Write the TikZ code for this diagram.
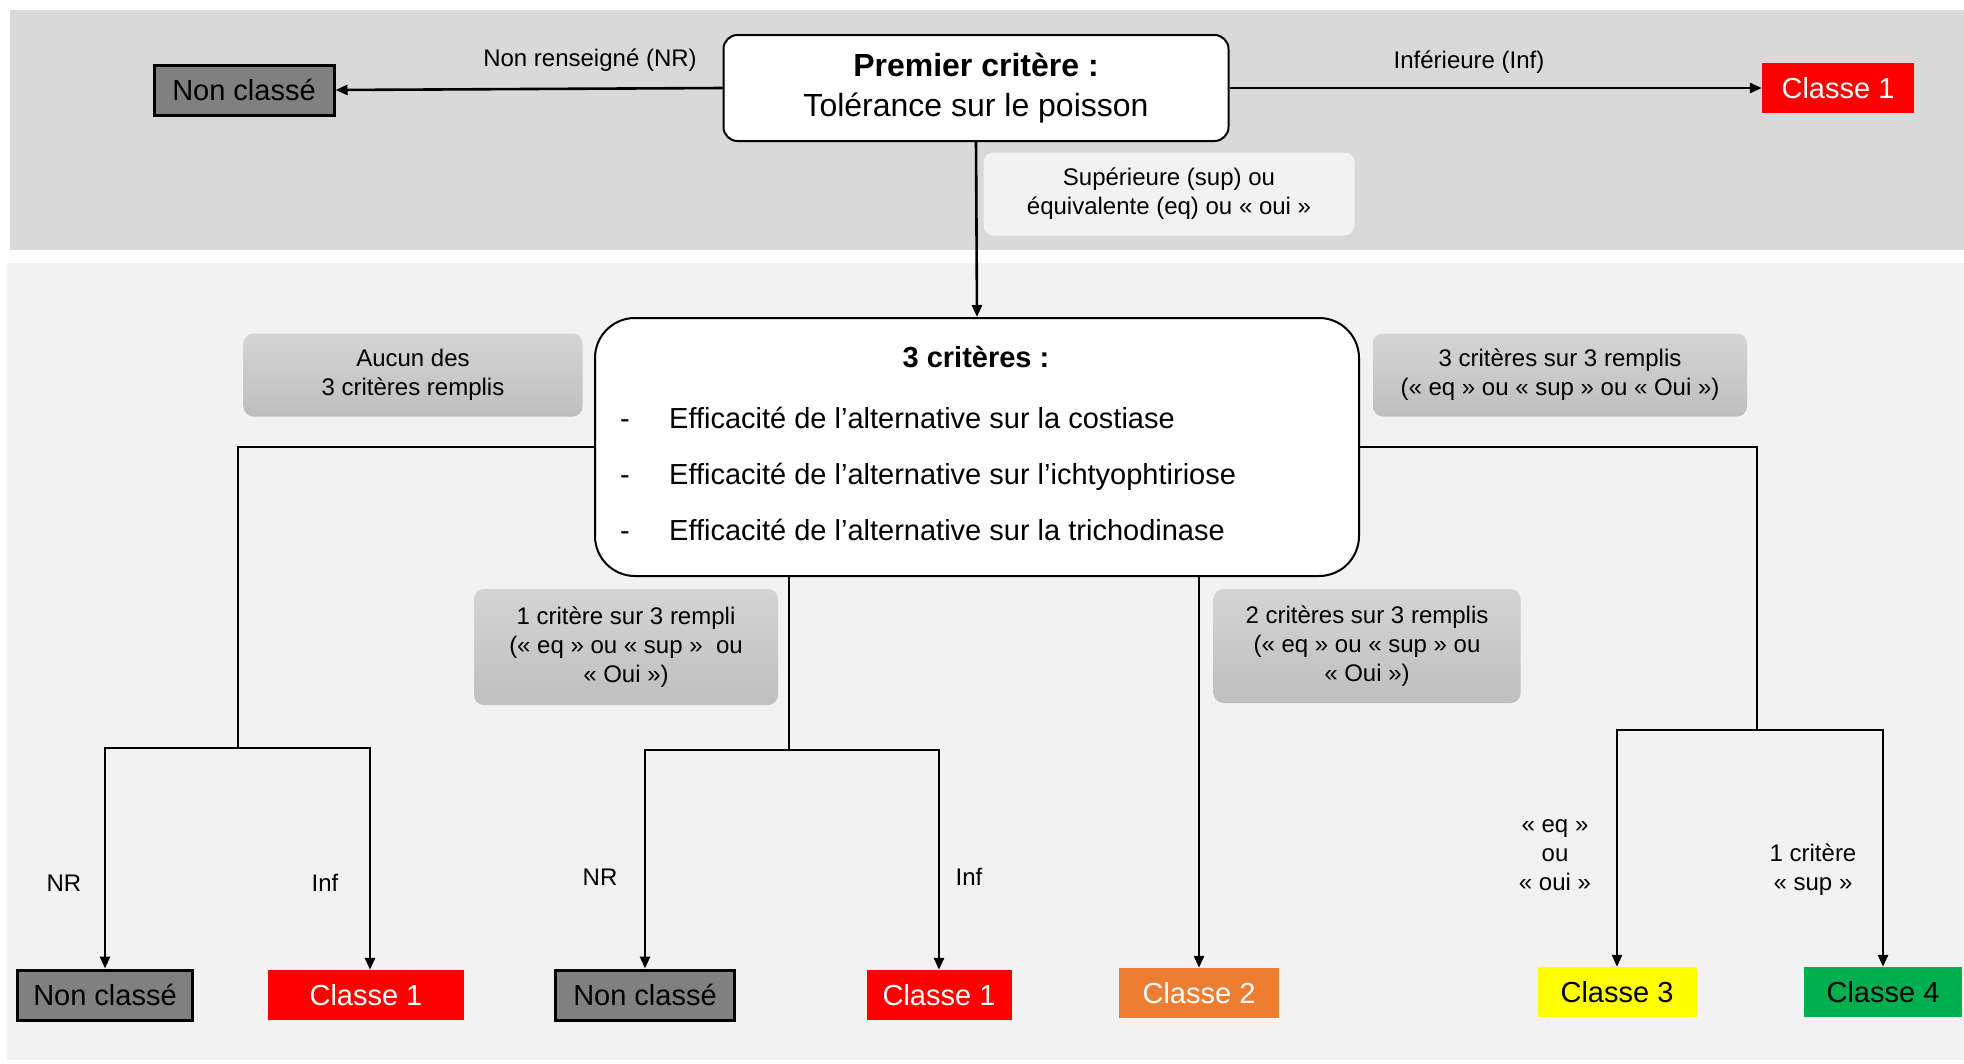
\documentclass[tikz,border=0pt]{standalone}
\usepackage{fontspec}
\setmainfont{Liberation Sans}
\usetikzlibrary{arrows.meta}
\definecolor{bandtop}{HTML}{D9D9D9}
\definecolor{bandlow}{HTML}{F2F2F2}
\definecolor{ncgray}{HTML}{808080}
\definecolor{cl1}{HTML}{FF0000}
\definecolor{cl2}{HTML}{ED7D31}
\definecolor{cl3}{HTML}{FFFF00}
\definecolor{cl4}{HTML}{00B050}
\definecolor{notetop}{HTML}{D4D4D4}
\definecolor{notebot}{HTML}{BFBFBF}

\begin{document}
\begin{tikzpicture}[x=1pt,y=-1pt,
		big/.style={font=\fontsize{29}{35}\selectfont},
		small/.style={font=\fontsize{24}{29}\selectfont},
		nonclasse/.style={big,draw,line width=3pt,fill=ncgray,minimum width=#1,minimum height=50pt,inner sep=0pt},
		classe/.style={big,fill=#1,minimum height=50pt,inner sep=0pt},
		note/.style={small,align=center,rounded corners=10pt,top color=notetop,bottom color=notebot,inner sep=0pt},
		label/.style={small,align=center,inner sep=0pt},
		ligne/.style={line width=2.6pt},
		fleche/.style={ligne,-{Triangle[width=10pt,length=12pt]}}]
	\useasboundingbox (0,0) rectangle (1964,1063);
	\fill[bandtop] (10,10) rectangle (1964,250);
	\fill[bandlow] (7,263) rectangle (1964,1060);

	\node[font=\fontsize{32}{40}\selectfont,draw,line width=2pt,fill=white,rounded corners=14pt,minimum width=505pt,minimum height=106pt,align=center] (prem) at (976,88)
		{\textbf{Premier critère :}\\Tolérance sur le poisson};
	\node[nonclasse=180pt] (ncTop) at (244,90) {Non classé};
	\node[classe=cl1,text=white,minimum width=152pt] (c1Top) at (1838,88) {Classe 1};
	\node[label] (nrTop) at (590,60) {Non renseigné (NR)};
	\node[label] (infTop) at (1469,62) {Inférieure (Inf)};
	\node[label,fill=bandlow,rounded corners=10pt,minimum width=371pt,minimum height=83pt] (supTop) at (1169,194)
		{Supérieure (sup) ou\\équivalente (eq) ou « oui »};

	\node[draw,line width=2pt,fill=white,rounded corners=40pt,minimum width=764pt,minimum height=258pt] (crit) at (977,447) {};
	\node[big,inner sep=0pt] (critT) at (976,357) {\textbf{3 critères :}};
	\foreach \yy\txt in {428/la costiase,484/l’ichtyophtiriose,540/la trichodinase} {
		\node[big,anchor=base west,inner sep=0pt] (tiret\yy) at (620,\yy) {-};
		\node[big,anchor=base west,inner sep=0pt] (item\yy) at (669,\yy) {Efficacité de l’alternative sur \txt};
	}

	\node[note,minimum width=339pt,minimum height=83pt] (aucun) at (413,375) {Aucun des\\3 critères remplis};
	\node[note,minimum width=374pt,minimum height=83pt] (trois) at (1560,375) {3 critères sur 3 remplis\\(« eq » ou « sup » ou « Oui »)};
	\node[note,minimum width=304pt,minimum height=116pt] (un) at (626,647) {1 critère sur 3 rempli\\(« eq » ou « sup »\ \ ou\\« Oui »)};
	\node[note,minimum width=307pt,minimum height=114pt] (deux) at (1367,646) {2 critères sur 3 remplis\\(« eq » ou « sup » ou\\« Oui »)};

	\node[nonclasse=175pt] (ncA) at (105,995) {Non classé};
	\node[classe=cl1,text=white,minimum width=196pt] (c1A) at (366,995) {Classe 1};
	\node[nonclasse=179pt] (ncB) at (645,995) {Non classé};
	\node[classe=cl1,text=white,minimum width=145pt] (c1B) at (939,995) {Classe 1};
	\node[classe=cl2,text=white,minimum width=160pt] (c2) at (1199,993) {Classe 2};
	\node[classe=cl3,minimum width=159pt] (c3) at (1617,992) {Classe 3};
	\node[classe=cl4,minimum width=158pt] (c4) at (1883,992) {Classe 4};

	\node[label] (nrA) at (64,883) {NR};
	\node[label] (infA) at (325,883) {Inf};
	\node[label] (nrB) at (600,877) {NR};
	\node[label] (infB) at (969,877) {Inf};
	\node[label] (eqC) at (1555,855) {« eq »\\ou\\« oui »};
	\node[label] (supC) at (1813,870) {1 critère\\« sup »};

	\coordinate (jL) at (238,748);
	\coordinate (jM) at (789,750);
	\coordinate (jR) at (1757,730);

	\draw[fleche] (prem.west) -- (ncTop.east);
	\draw[fleche] (prem.east) -- (c1Top.west);
	\draw[fleche] (prem.south) -- (crit.north);
	\draw[ligne] (crit.west) -| (jL);
	\draw[fleche] (jL) -| (ncA.north);
	\draw[fleche] (jL) -| ([xshift=4pt]c1A.north);
	\draw[ligne] (crit.south -| jM) -- (jM);
	\draw[fleche] (jM) -| (ncB.north);
	\draw[fleche] (jM) -| (c1B.north);
	\draw[fleche] (crit.south -| c2.north) -- (c2.north);
	\draw[ligne] (crit.east) -| (jR);
	\draw[fleche] (jR) -| (c3.north);
	\draw[fleche] (jR) -| (c4.north);
\end{tikzpicture}
\end{document}
